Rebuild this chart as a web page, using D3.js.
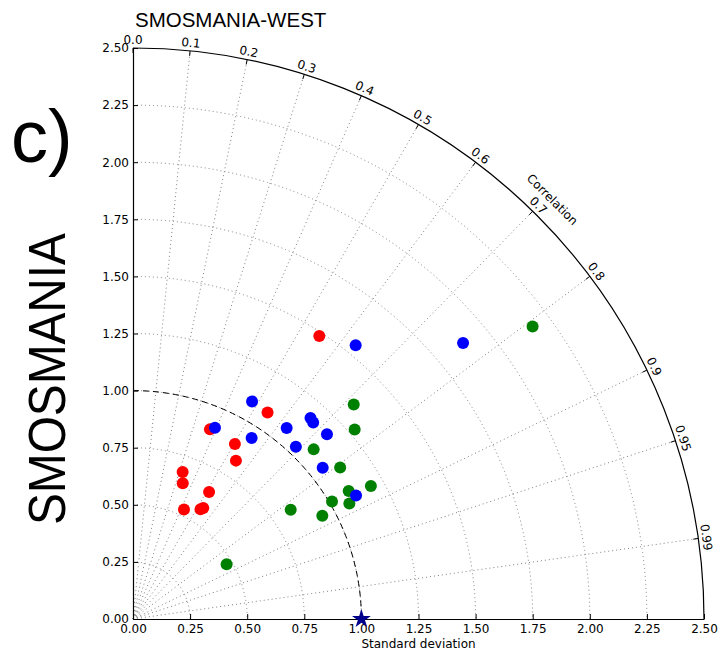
<!DOCTYPE html>
<html>
<head>
<meta charset="utf-8">
<script src="https://cdn.jsdelivr.net/npm/d3@7"></script>
<style>
  body{ margin: 0; background: #fff; }
  svg text{ font-family: 'DejaVu Sans', sans-serif; fill: #000; }
</style>
</head>
<body>
<div id="taylor"><div class="plot"></div></div>
<script>

// Standard deviation / correlation of each site.
var red_std   = [ 1.483, 1.079, 0.896, 0.887, 0.827, 0.679, 0.633, 0.648, 0.529, 0.564, 0.575 ];
var red_corr  = [ 0.550, 0.546, 0.376, 0.503, 0.545, 0.320, 0.344, 0.514, 0.422, 0.524, 0.535 ];

var green_std  = [ 2.168, 1.348, 1.277, 1.085, 1.124, 1.193, 1.098, 1.012, 1.074, 0.840, 0.944, 0.475 ];
var green_corr = [ 0.807, 0.717, 0.760, 0.729, 0.807, 0.873, 0.860, 0.861, 0.882, 0.822, 0.878, 0.863 ];

var blue_std  = [ 1.545, 1.884, 1.086, 0.911, 0.948, 1.073, 1.174, 1.167, 1.173, 1.038, 1.062, 1.116 ];
var blue_corr = [ 0.631, 0.767, 0.480, 0.394, 0.548, 0.627, 0.662, 0.676, 0.724, 0.687, 0.782, 0.875 ];

// Reference point (observations).
var ref_std = 1.0;

var std_ticks  = [ 0, 0.25, 0.5, 0.75, 1.0, 1.25, 1.5, 1.75, 2.0, 2.25, 2.5 ];
var corr_ticks = [ 0.0, 0.1, 0.2, 0.3, 0.4, 0.5, 0.6, 0.7, 0.8, 0.9, 0.95, 0.99 ];

var series = [
  { name: 'red',   color: '#ff0000', std: red_std,   corr: red_corr },
  { name: 'green', color: '#008000', std: green_std, corr: green_corr },
  { name: 'blue',  color: '#0000ff', std: blue_std,  corr: blue_corr }
];

var width = 720, height = 651;
var origin = { x: 133, y: 619 };
var std_max = 2.5;

var svg = d3.select( 'div#taylor .plot' )
  .append( 'svg' )
    .attr( 'width', width )
    .attr( 'height', height );

// Radius scale, and cartesian scales that share it.
var r_scale = d3.scaleLinear().domain( [0, std_max] ).range( [0, 571] );
var x_scale = d3.scaleLinear().domain( [0, std_max] ).range( [origin.x, origin.x + r_scale( std_max )] );
var y_scale = d3.scaleLinear().domain( [0, std_max] ).range( [origin.y, origin.y - r_scale( std_max )] );

function polar( std, corr ){
  var theta = Math.acos( corr );
  return [ x_scale( std * Math.cos( theta ) ), y_scale( std * Math.sin( theta ) ) ];
}

function quarter_arc( std ){
  var p = d3.path();
  var r = r_scale( std );
  p.moveTo( origin.x, origin.y - r );
  p.arc( origin.x, origin.y, r, -Math.PI / 2, 0 );
  return p.toString();
}

var grid = svg.append( 'g' )
  .attr( 'fill', 'none' )
  .attr( 'stroke', '#808080' )
  .attr( 'stroke-width', 1 )
  .attr( 'stroke-dasharray', '1,3' );

// Std dev arcs.
grid.selectAll( 'path' )
  .data( std_ticks.filter( function(d){ return d > 0 && d < std_max } ) )
  .enter().append( 'path' )
    .attr( 'd', quarter_arc );

// Correlation rays.
grid.selectAll( 'line' )
  .data( corr_ticks.filter( function(d){ return d > 0 } ) )
  .enter().append( 'line' )
    .attr( 'x1', origin.x )
    .attr( 'y1', origin.y )
    .attr( 'x2', function(d){ return polar( std_max, d )[0] } )
    .attr( 'y2', function(d){ return polar( std_max, d )[1] } );

// Dashed arc through the reference std dev.
svg.append( 'path' )
  .attr( 'd', quarter_arc( ref_std ) )
  .attr( 'fill', 'none' )
  .attr( 'stroke', '#000' )
  .attr( 'stroke-width', 1 )
  .attr( 'stroke-dasharray', '6,4' );

// Frame: outer arc and both axes.
svg.append( 'path' )
  .attr( 'd', quarter_arc( std_max ) )
  .attr( 'fill', 'none' )
  .attr( 'stroke', '#000' )
  .attr( 'stroke-width', 1.2 );

svg.append( 'g' )
  .attr( 'transform', 'translate(0,' + origin.y + ')' )
  .call( d3.axisBottom( x_scale ).tickValues( std_ticks ).tickFormat( d3.format( '.2f' ) ).tickSizeInner( -5 ).tickSizeOuter( 0 ).tickPadding( 5 ) )
  .call( function(g){
    g.select( '.domain' ).attr( 'stroke-width', 1.2 );
    g.selectAll( 'text' ).attr( 'font-size', 12 ).attr( 'font-family', 'DejaVu Sans' );
  } );

svg.append( 'g' )
  .attr( 'transform', 'translate(' + origin.x + ',0)' )
  .call( d3.axisLeft( y_scale ).tickValues( std_ticks ).tickFormat( d3.format( '.2f' ) ).tickSizeInner( -5 ).tickSizeOuter( 0 ).tickPadding( 4 ) )
  .call( function(g){
    g.select( '.domain' ).attr( 'stroke-width', 1.2 );
    g.selectAll( 'text' ).attr( 'font-size', 12 ).attr( 'font-family', 'DejaVu Sans' );
  } );

// Correlation ticks and labels on the outer arc.
var corr_axis = svg.append( 'g' );
corr_axis.selectAll( 'line' )
  .data( corr_ticks )
  .enter().append( 'line' )
    .attr( 'x1', function(d){ return polar( std_max, d )[0] } )
    .attr( 'y1', function(d){ return polar( std_max, d )[1] } )
    .attr( 'x2', function(d){ return polar( std_max - 0.022, d )[0] } )
    .attr( 'y2', function(d){ return polar( std_max - 0.022, d )[1] } )
    .attr( 'stroke', '#000' );

corr_axis.selectAll( 'text' )
  .data( corr_ticks )
  .enter().append( 'text' )
    .attr( 'transform', function(d){
      var theta = Math.acos( d );
      var r = r_scale( std_max ) + 8;
      var x = origin.x + r * Math.cos( theta ), y = origin.y - r * Math.sin( theta );
      return 'translate(' + x + ',' + y + ') rotate(' + ( 90 - theta * 180 / Math.PI ) + ')';
    } )
    .attr( 'text-anchor', 'middle' )
    .attr( 'dominant-baseline', 'central' )
    .attr( 'font-size', 12 )
    .text( function(d){ return d3.format( '.2~f' )( d ).replace( /^0$/, '0.0' ).replace( /^1$/, '1.0' ) } );

// Correlation axis title.
var corr_title_r = r_scale( std_max ) + 22;
svg.append( 'text' )
  .attr( 'transform', 'translate(' + ( origin.x + corr_title_r * Math.cos( Math.PI / 4 ) ) + ',' + ( origin.y - corr_title_r * Math.sin( Math.PI / 4 ) ) + ') rotate(45)' )
  .attr( 'text-anchor', 'middle' )
  .attr( 'dominant-baseline', 'central' )
  .attr( 'font-size', 12 )
  .text( 'Correlation' );

// x axis title.
svg.append( 'text' )
  .attr( 'x', x_scale( std_max / 2 ) )
  .attr( 'y', 648 )
  .attr( 'text-anchor', 'middle' )
  .attr( 'font-size', 12 )
  .text( 'Standard deviation' );

// Data points.
series.forEach( function( s ){
  svg.append( 'g' )
    .selectAll( 'circle' )
    .data( s.std.map( function( v, i ){ return { std: v, corr: s.corr[i] } } ) )
    .enter().append( 'circle' )
      .attr( 'cx', function(d){ return polar( d.std, d.corr )[0] } )
      .attr( 'cy', function(d){ return polar( d.std, d.corr )[1] } )
      .attr( 'r', 6 )
      .attr( 'fill', s.color );
} );

// Reference star.
svg.append( 'path' )
  .attr( 'd', d3.symbol( d3.symbolStar ).size( 110 ) )
  .attr( 'transform', 'translate(' + polar( ref_std, 1 )[0] + ',' + polar( ref_std, 1 )[1] + ')' )
  .attr( 'fill', '#00008b' );

// Title and panel labels.
svg.append( 'text' )
  .attr( 'x', 135 )
  .attr( 'y', 27 )
  .attr( 'font-size', 20.5 )
  .style( 'font-family', 'Liberation Sans, Arial, sans-serif' )
  .text( 'SMOSMANIA-WEST' );

svg.append( 'text' )
  .attr( 'x', 11 )
  .attr( 'y', 162 )
  .attr( 'font-size', 74 )
  .style( 'font-family', 'Liberation Sans, Arial, sans-serif' )
  .text( 'c)' );

svg.append( 'text' )
  .attr( 'transform', 'translate(65,379) rotate(-90)' )
  .attr( 'text-anchor', 'middle' )
  .attr( 'font-size', 52 )
  .attr( 'textLength', 292 )
  .attr( 'lengthAdjust', 'spacingAndGlyphs' )
  .style( 'font-family', 'Liberation Sans, Arial, sans-serif' )
  .text( 'SMOSMANIA' );

</script>
</body>
</html>
